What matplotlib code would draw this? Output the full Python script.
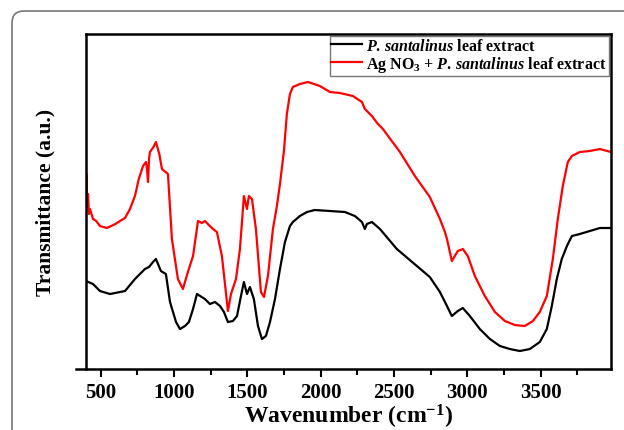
import matplotlib
matplotlib.use("Agg")
import matplotlib.pyplot as plt
import matplotlib.patches as mpatches
from matplotlib.transforms import IdentityTransform
from matplotlib.ticker import MultipleLocator

plt.rcParams['font.family'] = 'Liberation Serif'
plt.rcParams['font.weight'] = 'bold'
plt.rcParams['mathtext.fontset'] = 'custom'
plt.rcParams['mathtext.rm'] = 'Liberation Serif:bold'
plt.rcParams['mathtext.it'] = 'Liberation Serif:italic:bold'
plt.rcParams['mathtext.bf'] = 'Liberation Serif:bold'

# FTIR spectra (transmittance in arbitrary units)
wn_extract = [400, 448, 495, 564, 632, 666, 734, 802, 830, 857, 877, 911, 945, 973,
              1014, 1041, 1075, 1102, 1130, 1157, 1211, 1245, 1280, 1314, 1341, 1368,
              1402, 1430, 1457, 1477, 1498, 1518, 1545, 1573, 1600, 1627, 1655, 1689,
              1723, 1757, 1791, 1811, 1859, 1907, 1961, 2064, 2166, 2234, 2282, 2302,
              2316, 2350, 2405, 2520, 2745, 2814, 2862, 2895, 2936, 2970, 3018, 3086,
              3155, 3223, 3291, 3359, 3427, 3495, 3543, 3577, 3611, 3645, 3680, 3714,
              3768, 3836, 3905, 3980]
t_extract = [88, 85, 78, 75, 77, 78, 90, 100, 102, 107, 110, 98, 95, 67,
             47, 40, 43, 47, 60, 75, 70, 65, 67, 63, 57, 47,
             48, 53, 73, 87, 75, 82, 70, 43, 30, 33, 47, 70,
             100, 127, 143, 147, 153, 157, 159, 158, 157, 153, 147, 140,
             145, 147, 140, 120, 92, 77, 63, 53, 58, 61, 53, 40,
             30, 23, 20, 18, 20, 27, 40, 63, 90, 110, 123, 133,
             135, 138, 141, 141]

wn_agno3 = [400, 404, 408, 414, 420, 427, 448, 470, 495, 543, 600, 632, 666, 700,
            734, 760, 789, 809, 816, 823, 830, 836, 860, 877, 900, 918, 959, 986,
            1027, 1061, 1095, 1130, 1164, 1190, 1211, 1245, 1266, 1293, 1327, 1368,
            1389, 1423, 1450, 1477, 1498, 1511, 1532, 1559, 1593, 1614, 1641, 1675,
            1702, 1723, 1750, 1770, 1791, 1811, 1859, 1914, 1995, 2064, 2132, 2220,
            2282, 2302, 2316, 2336, 2350, 2391, 2425, 2541, 2643, 2745, 2814, 2848,
            2862, 2895, 2936, 2970, 3004, 3052, 3120, 3189, 3257, 3325, 3393, 3448,
            3495, 3543, 3584, 3618, 3652, 3686, 3714, 3768, 3836, 3905, 3980]
t_agno3 = [165, 195, 160, 175, 155, 160, 150, 148, 143, 141, 145, 148, 151, 160,
           173, 190, 203, 207, 200, 187, 210, 217, 222, 227, 215, 200, 195, 130,
           90, 80, 97, 113, 148, 146, 148, 143, 140, 137, 113, 58,
           75, 90, 120, 173, 160, 173, 170, 140, 77, 72, 93, 140,
           163, 185, 218, 255, 275, 282, 285, 287, 283, 277, 276, 273,
           267, 260, 258, 255, 253, 245, 240, 217, 193, 172, 150, 137,
           130, 108, 118, 120, 113, 93, 73, 57, 48, 44, 43, 48,
           57, 73, 110, 150, 183, 207, 213, 217, 218, 220, 217]

labels = [r'$\mathit{P.\,santalinus}$ leaf extract',
          r'Ag NO$_3$ + $\mathit{P.\,santalinus}$ leaf extract']

fig = plt.figure(figsize=(6.24, 4.31), dpi=100)
ax = fig.add_axes([0.1378, 0.1415, 0.8412, 0.7773])

ax.plot(wn_extract, t_extract, color='black', lw=1.6, label=labels[0])
ax.plot(wn_agno3, t_agno3, color='red', lw=1.6, label=labels[1])

ax.set_xlim(400, 3980)
ax.set_ylim(0, 335)
ax.set_yticks([])
ax.xaxis.set_major_locator(MultipleLocator(500))
ax.xaxis.set_minor_locator(MultipleLocator(250))
ax.set_xticks([500, 1000, 1500, 2000, 2500, 3000, 3500])
ax.tick_params(axis='x', which='major', direction='out', length=6, width=1.5,
               labelsize=15, pad=3)
ax.tick_params(axis='x', which='minor', direction='out', length=4, width=1.5)
for s in ax.spines.values():
    s.set_linewidth(1.8)
ax.spines['bottom'].set_bounds(330, 3980)

ax.set_xlabel(r'Wavenumber (cm$^{-1}$)', fontsize=17, fontweight='bold', labelpad=0)
ax.set_ylabel('Transmittance (a.u.)', fontsize=15.5, fontweight='bold', labelpad=22)

leg = ax.legend(loc='upper right', fontsize=11.5, frameon=True, fancybox=False,
                edgecolor='#555555', borderaxespad=0.15, handlelength=1.9,
                handletextpad=0.3, labelspacing=0.0, borderpad=0.1)
leg.get_frame().set_linewidth(1.0)

# rounded outer border of the figure
border = mpatches.FancyBboxPatch((12, -30), 700, 449,
                                 boxstyle='round,pad=0,rounding_size=12',
                                 transform=IdentityTransform(), fc='none',
                                 ec='#777777', lw=1.2)
fig.patches.append(border)

fig.savefig('out.png', dpi=100)
